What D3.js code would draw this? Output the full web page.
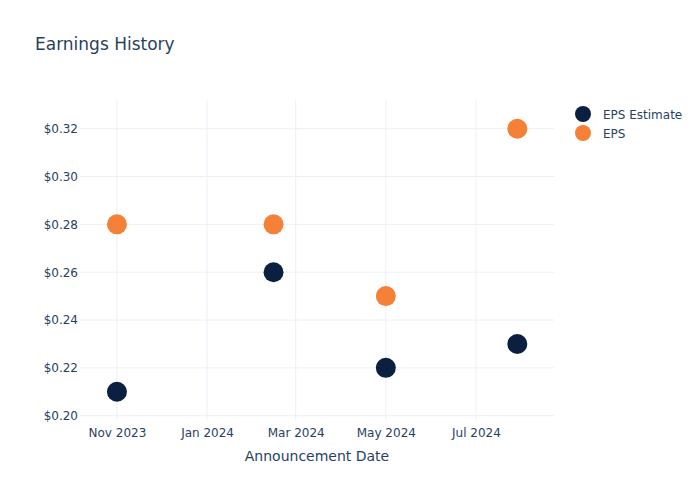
<!DOCTYPE html>
<html>
<head>
<meta charset="utf-8">
<script src="https://cdn.jsdelivr.net/npm/d3@7"></script>
<style>
body{margin:0;background:#fff;}
text{font-family:"DejaVu Sans",sans-serif;}
</style>
</head>
<body>
<svg id="chart" width="700" height="500"></svg>
<script>
const dates = ["2023-11-01", "2024-02-15", "2024-05-01", "2024-07-29"];
const epsEstimate = [0.21, 0.26, 0.22, 0.23];
const eps = [0.28, 0.28, 0.25, 0.32];
const seriesNames = ["EPS Estimate", "EPS"];
const seriesColors = ["#0b1f41", "#f58038"];
const yTicks = [0.20, 0.22, 0.24, 0.26, 0.28, 0.30, 0.32];
const xTicks = ["2023-11-01", "2024-01-01", "2024-03-01", "2024-05-01", "2024-07-01"];

const parse = d3.utcParse("%Y-%m-%d");
const svg = d3.select("#chart");
const L = 80, R = 554, T = 100, B = 420;
const textColor = "#2a3f5f", gridColor = "#ebf0f8";

const x = d3.scaleUtc()
  .domain([parse("2023-10-07"), parse("2023-10-07").getTime() + (R - L) / 1.4774 * 864e5])
  .range([L, R]);
const y = d3.scaleLinear().domain([0.1982, 0.3320]).range([B, T]);

// grid
svg.append("g").selectAll("line").data(xTicks).join("line")
  .attr("x1", d => x(parse(d))).attr("x2", d => x(parse(d)))
  .attr("y1", T).attr("y2", B).attr("stroke", gridColor).attr("stroke-width", 1);
svg.append("g").selectAll("line").data(yTicks).join("line")
  .attr("x1", L).attr("x2", R)
  .attr("y1", d => y(d)).attr("y2", d => y(d)).attr("stroke", gridColor).attr("stroke-width", 1);

// axes
const yAxis = d3.axisLeft(y).tickValues(yTicks).tickFormat(d => "$" + d3.format(".2f")(d)).tickSize(0).tickPadding(3);
const gy = svg.append("g").attr("transform", `translate(${L},0)`).call(yAxis);
gy.select(".domain").remove();
gy.selectAll("text").attr("fill", textColor).style("font-size", "12px").attr("x", -2);

const xAxis = d3.axisBottom(x).tickValues(xTicks.map(parse)).tickFormat(d3.utcFormat("%b %Y")).tickSize(0).tickPadding(8);
const gx = svg.append("g").attr("transform", `translate(0,${B})`).call(xAxis);
gx.select(".domain").remove();
gx.selectAll("text").attr("fill", textColor).style("font-size", "12px");

// points
const series = [epsEstimate, eps];
series.forEach((vals, i) => {
  svg.append("g").selectAll("circle").data(vals).join("circle")
    .attr("cx", (d, j) => x(parse(dates[j])))
    .attr("cy", d => y(d))
    .attr("r", 10)
    .attr("fill", seriesColors[i]);
});

// title
svg.append("text").attr("x", 35).attr("y", 50).text("Earnings History")
  .attr("fill", textColor).style("font-size", "17px");

// x axis title
svg.append("text").attr("x", (L + R) / 2).attr("y", 461).attr("text-anchor", "middle")
  .text("Announcement Date").attr("fill", textColor).style("font-size", "14px");

// legend
const lg = svg.append("g");
seriesNames.forEach((n, i) => {
  lg.append("circle").attr("cx", 583).attr("cy", 114 + i * 19).attr("r", 8).attr("fill", seriesColors[i]);
  lg.append("text").attr("x", 603).attr("y", 118.5 + i * 19).text(n)
    .attr("fill", textColor).style("font-size", "12px");
});
</script>
</body>
</html>
